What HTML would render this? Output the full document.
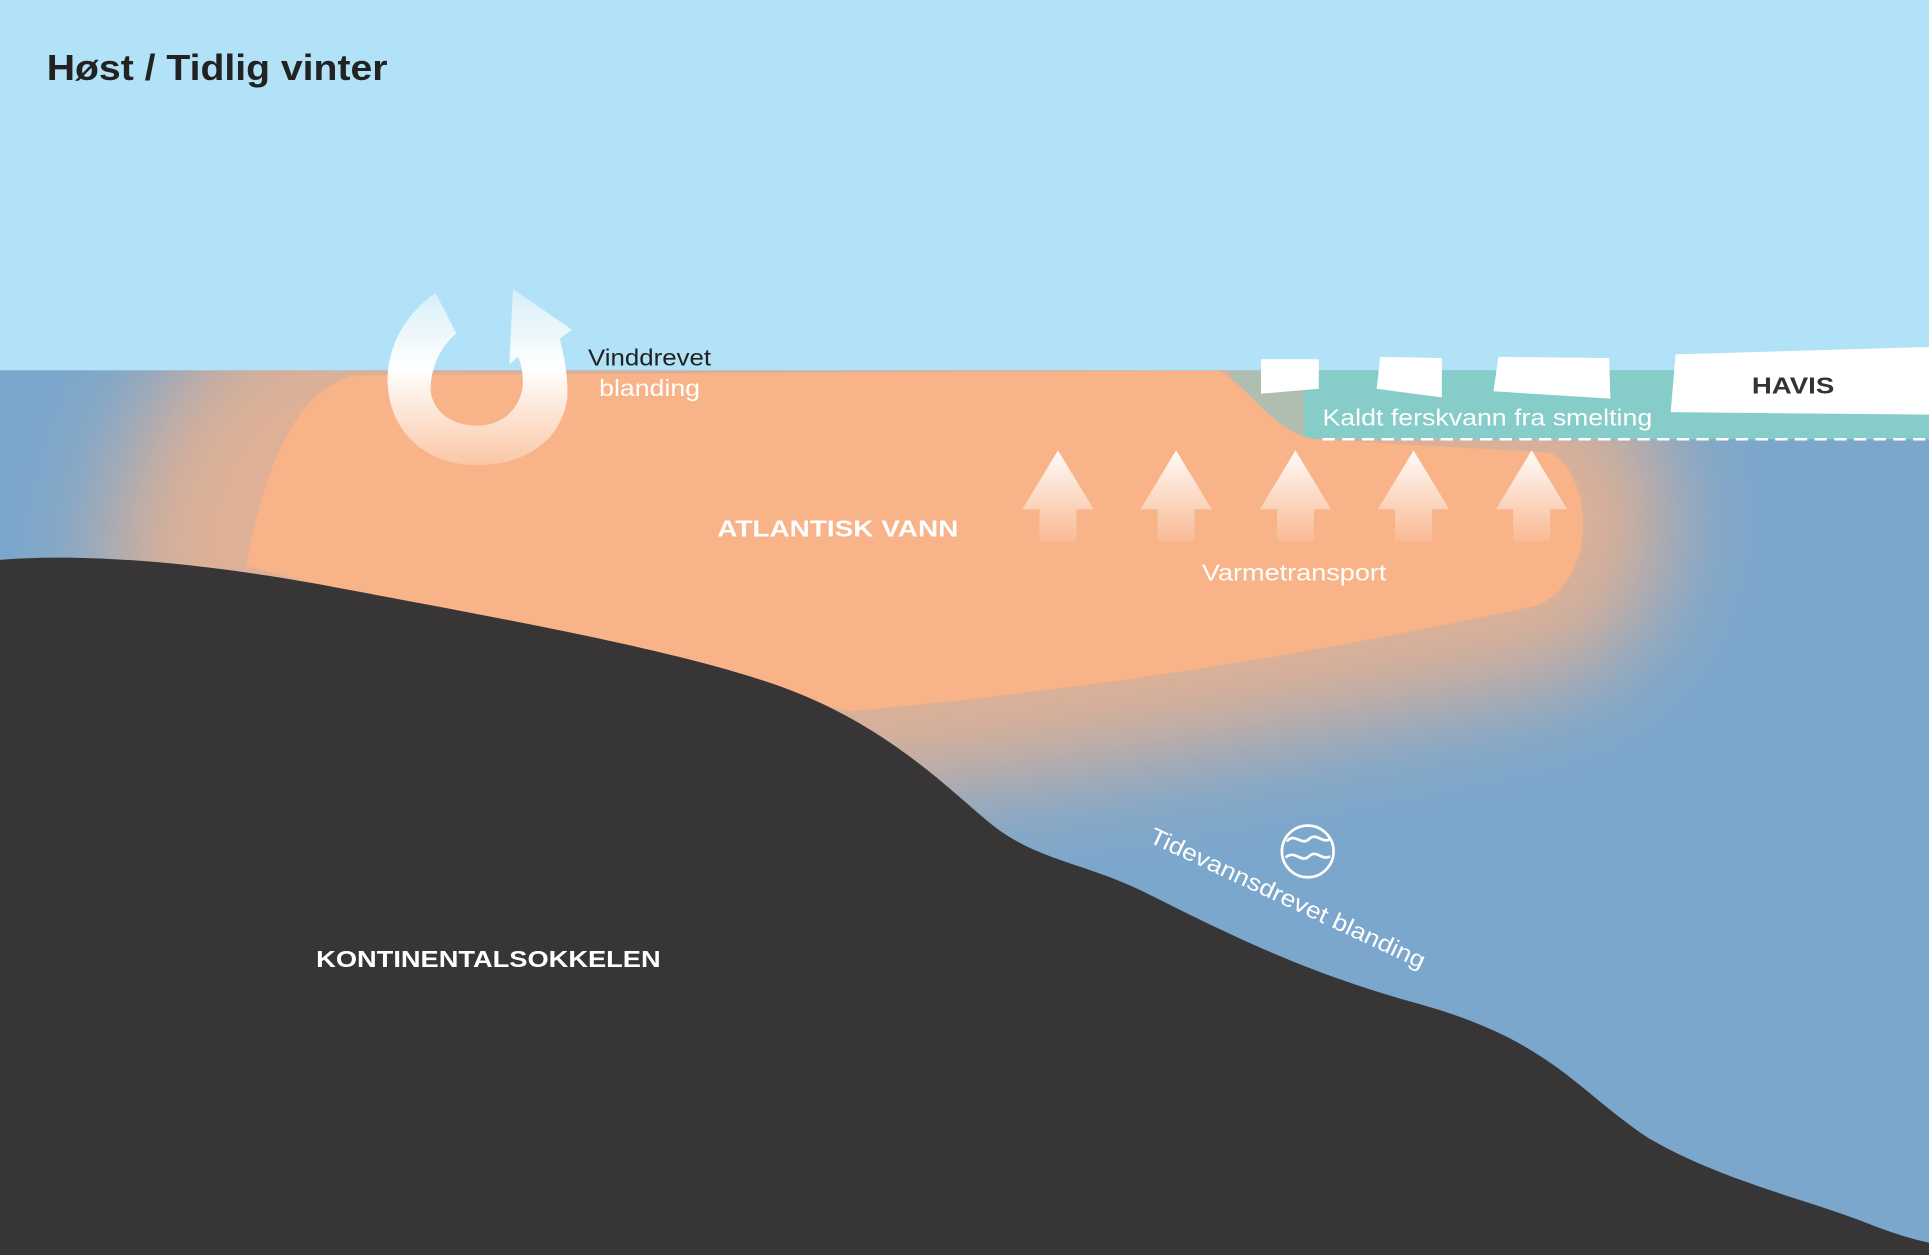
<!DOCTYPE html>
<html><head><meta charset="utf-8"><style>html,body{margin:0;padding:0;background:#b2e2f7}svg{display:block}text{font-family:"Liberation Sans",sans-serif}</style></head><body>
<svg width="1929" height="1255" viewBox="0 0 1568 1020" preserveAspectRatio="none" xmlns="http://www.w3.org/2000/svg">
<defs>
<filter id="bl" filterUnits="userSpaceOnUse" x="-200" y="100" width="2000" height="900"><feGaussianBlur stdDeviation="40"/></filter>
<linearGradient id="ag" x1="0" y1="0" x2="0" y2="1"><stop offset="0" stop-color="#fff" stop-opacity="0.95"/><stop offset="1" stop-color="#fff" stop-opacity="0.1"/></linearGradient>
<linearGradient id="rg" x1="0" y1="0" x2="0" y2="1"><stop offset="0" stop-color="#d6eef9"/><stop offset="0.45" stop-color="#ffffff"/><stop offset="1" stop-color="#fac7a6"/></linearGradient>
<clipPath id="sea"><rect x="0" y="301" width="1568" height="719"/></clipPath>
</defs>
<rect width="1568" height="1020" fill="#b2e2f7"/>
<rect x="0" y="301" width="1568" height="719" fill="#7ba7cc"/>
<g clip-path="url(#sea)">
<path filter="url(#bl)" fill="#f8b388" stroke="#f8b388" stroke-width="130" stroke-linejoin="round" opacity="0.8" d="M150,470 C165,380 190,301 290,301 L1000,301 C1030,320 1040,355 1080,358 L1270,370 C1300,390 1300,470 1250,490 C1100,520 900,560 700,580 Z"/>
</g>
<rect x="1060" y="301" width="508" height="56" fill="#86ccc9"/>
<rect x="1000" y="301" width="60" height="56" fill="#86ccc9" opacity="0.5"/>
<path fill="#f8b388" d="M200,460 C215,380 240,315 290,305 L990,301 C1020,318 1035,352 1070,357 L1260,368 C1295,385 1300,470 1250,492 C1100,525 900,560 690,578 L600,560 Z"/>
<path d="M1075,357 H1568" stroke="#fff" stroke-width="2" stroke-dasharray="10,6"/>
<path fill="#373535" d="M0,455 C60,450 150,455 260,475 C420,505 560,530 640,560 C720,590 770,640 800,665 C840,700 880,700 930,725 C1000,760 1060,790 1150,815 C1260,845 1280,885 1340,925 C1400,960 1470,975 1520,995 C1540,1003 1555,1007 1568,1010 L1568,1020 L0,1020 Z"/>
<g fill="#fff">
<polygon points="1025,292 1072,292 1072,316 1025,320"/>
<polygon points="1122,290 1172,291 1172,323 1119,316"/>
<polygon points="1218,290 1308,291 1309,324 1214,318"/>
<polygon points="1362,288 1568,282 1568,337 1358,335"/>
</g>
<g fill="url(#ag)">
<polygon points="860,366 889,414 875,414 875,440 845,440 845,414 831,414"/>
<polygon points="956,366 985,414 971,414 971,440 941,440 941,414 927,414"/>
<polygon points="1053,366 1082,414 1068,414 1068,440 1038,440 1038,414 1024,414"/>
<polygon points="1149,366 1178,414 1164,414 1164,440 1134,440 1134,414 1120,414"/>
<polygon points="1245,366 1274,414 1260,414 1260,440 1230,440 1230,414 1216,414"/>
</g>
<path fill="url(#rg)" fill-rule="evenodd" d="M354,238 L371,271 C358,282 350,298 350,318 C352,333 365,346 388,346 C410,346 424,330 425,312 C425,303 424,296 421,290 L414,296 L417,235 L465,268 L455,275 C460,295 462,310 461,325 C455,360 425,378 388,378 C345,378 316,350 315,310 C315,280 330,255 354,238 Z"/>
<text x="38" y="65" font-size="29" font-weight="bold" fill="#222" textLength="277" lengthAdjust="spacingAndGlyphs">Høst / Tidlig vinter</text>
<text x="478" y="297" font-size="19" fill="#222" textLength="100" lengthAdjust="spacingAndGlyphs">Vinddrevet</text>
<text x="487" y="322" font-size="19" fill="#fff" textLength="82" lengthAdjust="spacingAndGlyphs">blanding</text>
<text x="583" y="436" font-size="19" font-weight="bold" fill="#fff" textLength="196" lengthAdjust="spacingAndGlyphs">ATLANTISK VANN</text>
<text x="977" y="472" font-size="19" fill="#fff" textLength="150" lengthAdjust="spacingAndGlyphs">Varmetransport</text>
<text x="1075" y="346" font-size="19" fill="#fff" textLength="268" lengthAdjust="spacingAndGlyphs">Kaldt ferskvann fra smelting</text>
<text x="1424" y="320" font-size="19" font-weight="bold" fill="#333" textLength="67" lengthAdjust="spacingAndGlyphs">HAVIS</text>
<text x="257" y="786" font-size="19" font-weight="bold" fill="#fff" textLength="280" lengthAdjust="spacingAndGlyphs">KONTINENTALSOKKELEN</text>
<text transform="translate(933,684) rotate(25)" font-size="19" fill="#fff" textLength="245" lengthAdjust="spacingAndGlyphs">Tidevannsdrevet blanding</text>
<g fill="none" stroke="#fff" stroke-width="2.2">
<circle cx="1063" cy="692" r="21"/>
<path d="M1046,684 C1052,676 1058,688 1064,682 C1070,676 1075,686 1081,682"/>
<path d="M1045,697 C1052,690 1058,702 1064,696 C1070,690 1075,700 1081,696"/>
</g>
</svg>
</body></html>
